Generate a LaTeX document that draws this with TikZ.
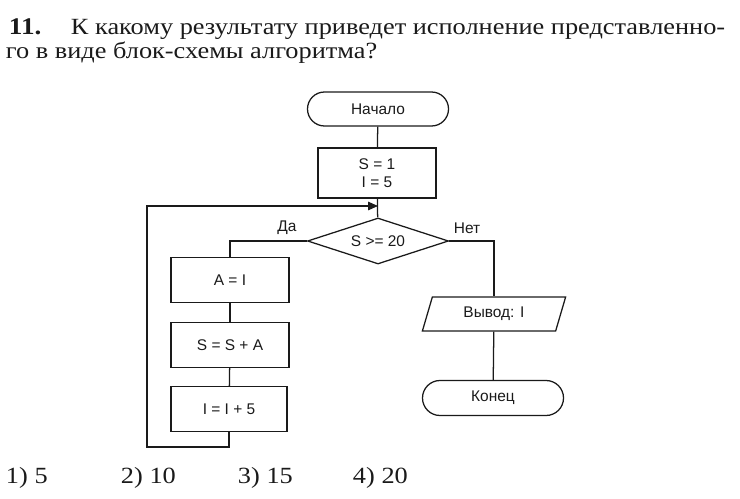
\documentclass[tikz,border=0pt]{standalone}
\usepackage{fontspec}
\setmainfont{Liberation Serif}
\setsansfont{Liberation Sans}
\newfontfamily\bookfont[FakeStretch=1.135]{Liberation Serif}
\usetikzlibrary{shapes.geometric,shapes.misc,arrows.meta}

\begin{document}
\begin{tikzpicture}[
  x=0.025cm,y=-0.025cm,
  flow/.style={draw=ink,line width=0.9pt},
  terminal/.style={rounded rectangle,draw=ink,line width=0.9pt,
                   minimum width=3.525cm,minimum height=0.85cm,inner sep=0pt},
  process/.style={rectangle,draw=ink,line width=0.9pt,align=center,
                  minimum width=2.95cm,minimum height=1.125cm,inner sep=0pt},
  decision/.style={diamond,draw=ink,line width=0.9pt,aspect=3.07,
                   minimum width=3.525cm,minimum height=1.15cm,inner sep=0pt},
  output/.style={trapezium,trapezium left angle=54,trapezium right angle=126,
                 trapezium stretches body,draw=ink,line width=0.9pt,
                 minimum width=3.58cm,minimum height=0.85cm,inner sep=0pt},
  every node/.style={font=\sffamily\fontsize{11}{13}\selectfont,text=ink},
  question/.style={font=\bookfont\fontsize{16.5}{20}\selectfont,
                   anchor=base west,inner sep=0.5pt},
]
\definecolor{ink}{HTML}{1A1A1A}
\useasboundingbox (0,0) rectangle (740,498);

\node[question,font=\bookfont\bfseries\fontsize{17}{20}\selectfont] (num) at (8,35) {11.};
\node[question] (line1) at (70,35)
  {К какому результату приведет исполнение представленно-};
\node[question] (line2) at (5,59) {го в виде блок-схемы алгоритма?};

% The flow chart itself.
\node[terminal] (start) at (378,109) {Начало};
\node[process,minimum height=1.25cm] (init) at (377,173) {S = 1\\I = 5};
\node[decision] (test) at (378,241) {S >= 20};
\node[process] (asg) at (230,280) {A = I};
\node[process] (sum) at (230,345) {S = S + A};
\node[process,minimum width=2.9cm] (inc) at (229,409) {I = I + 5};
\node[output] (out) at (494,314) {Вывод: I};
\node[terminal,minimum height=0.875cm] (stop) at (493,398) {Конец};

\coordinate (merge) at (378,206);
\coordinate (loopL) at (147,447);

\draw[flow] (start) -- (init);
\draw[flow] (init) -- (test);
\draw[flow] (test.west) -| (asg.north);
\draw[flow] (asg) -- (sum);
\draw[flow] (sum) -- (inc);
\draw[flow,-{Triangle[length=7pt,width=6pt]}] (inc.south) |- (loopL) |- (merge);
\draw[flow] (test.east) -| (out.north);
\draw[flow] (out) -- (stop);

\node (yes) at (287,228) {Да};
\node (no) at (467,228) {Нет};

% Answer choices.
\foreach \x/\txt/\name in {5/1) 5/ansA,120/2) 10/ansB,237/3) 15/ansC,352/4) 20/ansD}
  \node[question] (\name) at (\x,483) {\txt};
\end{tikzpicture}
\end{document}
